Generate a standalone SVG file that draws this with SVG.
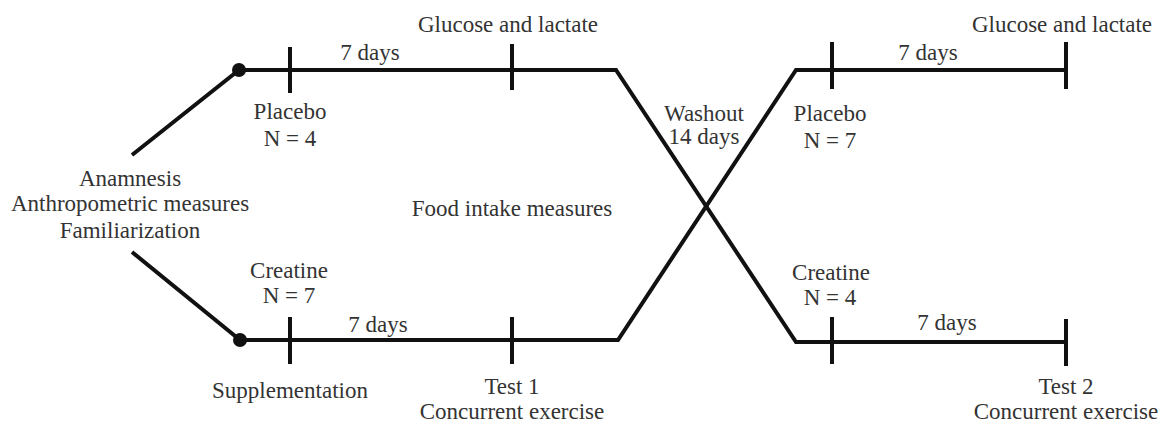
<svg xmlns="http://www.w3.org/2000/svg" width="1161" height="423" viewBox="0 0 1161 423">
<style>
.ln{stroke:#111;stroke-width:4;fill:none;stroke-linejoin:miter}
.tk{stroke:#111;stroke-width:4}
text{font-family:"Liberation Serif","Times New Roman",serif;font-size:23px;fill:#333;text-anchor:middle}
</style>
<rect width="1161" height="423" fill="#fff"/>
<g id="connectors">
<path class="ln" d="M132,155 L239,70 L616,70 L796,342 L1066,342"/>
<path class="ln" d="M132,252 L240,340 L618,340 L796,70 L1066,70"/>
<circle cx="239" cy="70" r="7" fill="#111"/>
<circle cx="240" cy="340" r="7" fill="#111"/>
<line class="tk" x1="290" y1="47" x2="290" y2="93"/>
<line class="tk" x1="512" y1="44" x2="512" y2="90"/>
<line class="tk" x1="832" y1="42" x2="832" y2="89"/>
<line class="tk" x1="1066" y1="42" x2="1066" y2="89"/>
<line class="tk" x1="290" y1="317" x2="290" y2="364"/>
<line class="tk" x1="512" y1="317" x2="512" y2="364"/>
<line class="tk" x1="832" y1="317" x2="832" y2="364"/>
<line class="tk" x1="1066" y1="319" x2="1066" y2="366"/>
</g>
<g id="start"><text x="130" y="186">Anamnesis</text><text x="130" y="211">Anthropometric measures</text><text x="130" y="238">Familiarization</text></g>
<g id="placebo1"><text x="290" y="119">Placebo</text><text x="290" y="146">N = 4</text></g>
<g id="days1"><text x="370" y="60">7 days</text></g>
<g id="glucose1"><text x="508" y="32">Glucose and lactate</text></g>
<g id="creatine1"><text x="289" y="278">Creatine</text><text x="289" y="303">N = 7</text></g>
<g id="days2"><text x="378" y="332">7 days</text></g>
<g id="supp"><text x="290" y="398">Supplementation</text></g>
<g id="test1"><text x="512" y="394">Test 1</text><text x="512" y="419">Concurrent exercise</text></g>
<g id="food"><text x="512" y="216">Food intake measures</text></g>
<g id="washout"><text x="704" y="121">Washout</text><text x="704" y="144">14 days</text></g>
<g id="placebo2"><text x="830" y="121">Placebo</text><text x="830" y="148">N = 7</text></g>
<g id="days3"><text x="928" y="60">7 days</text></g>
<g id="glucose2"><text x="1062" y="32">Glucose and lactate</text></g>
<g id="creatine2"><text x="831" y="280">Creatine</text><text x="830" y="305">N = 4</text></g>
<g id="days4"><text x="947" y="330">7 days</text></g>
<g id="test2"><text x="1066" y="394">Test 2</text><text x="1066" y="419">Concurrent exercise</text></g>
</svg>
